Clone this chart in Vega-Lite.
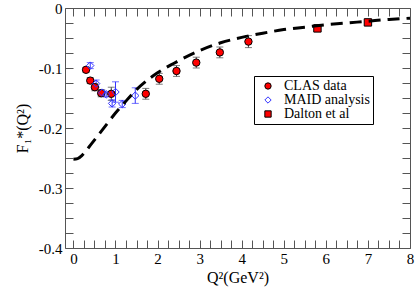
{
  "$schema": "https://vega.github.io/schema/vega-lite/v6.json",
  "width": 345,
  "height": 240,
  "autosize": "none",
  "padding": {"left": 65, "top": 8, "right": 5, "bottom": 46},
  "background": "white",
  "config": {
    "view": {"stroke": "#555", "strokeWidth": 1, "fill": null},
    "axis": {"domain": false, "grid": false, "ticks": true, "zindex": 1, "tickColor": "#555", "tickWidth": 1, "labelFont": "Times New Roman", "titleFont": "Times New Roman", "labelColor": "black", "titleColor": "black", "titleFontWeight": "normal", "labelFlush": false, "labelOverlap": false},
    "legend": {"labelFont": "Times New Roman"}
  },
  "datasets": {
    "curve": [
      {"q": 0.0, "f": -0.252}, {"q": 0.1, "f": -0.251}, {"q": 0.2, "f": -0.246}, {"q": 0.3, "f": -0.238},
      {"q": 0.4, "f": -0.229}, {"q": 0.6, "f": -0.211}, {"q": 0.8, "f": -0.193}, {"q": 1.0, "f": -0.175},
      {"q": 1.2, "f": -0.159}, {"q": 1.5, "f": -0.136}, {"q": 1.8, "f": -0.118}, {"q": 2.0, "f": -0.108},
      {"q": 2.5, "f": -0.088}, {"q": 3.0, "f": -0.071}, {"q": 3.5, "f": -0.058}, {"q": 4.0, "f": -0.049},
      {"q": 4.5, "f": -0.042}, {"q": 5.0, "f": -0.036}, {"q": 5.5, "f": -0.032}, {"q": 6.0, "f": -0.028},
      {"q": 6.5, "f": -0.025}, {"q": 7.0, "f": -0.022}, {"q": 7.5, "f": -0.019}, {"q": 8.0, "f": -0.017}
    ],
    "clas": [
      {"q": 0.30, "lo": -0.107, "hi": -0.099},
      {"q": 0.40, "lo": -0.126, "hi": -0.116},
      {"q": 0.51, "lo": -0.138, "hi": -0.126},
      {"q": 0.66, "lo": -0.148, "hi": -0.136},
      {"q": 0.90, "lo": -0.154, "hi": -0.132},
      {"q": 1.72, "lo": -0.152, "hi": -0.134},
      {"q": 2.04, "lo": -0.127, "hi": -0.109},
      {"q": 2.45, "lo": -0.114, "hi": -0.096},
      {"q": 2.92, "lo": -0.100, "hi": -0.082},
      {"q": 3.48, "lo": -0.083, "hi": -0.065},
      {"q": 4.16, "lo": -0.066, "hi": -0.046}
    ],
    "maid": [
      {"q": 0.40, "lo": -0.101, "hi": -0.091},
      {"q": 0.54, "lo": -0.132, "hi": -0.120},
      {"q": 0.68, "lo": -0.145, "hi": -0.137},
      {"q": 0.78, "lo": -0.148, "hi": -0.140},
      {"q": 0.92, "lo": -0.165, "hi": -0.153},
      {"q": 1.00, "lo": -0.157, "hi": -0.123},
      {"q": 1.16, "lo": -0.166, "hi": -0.154},
      {"q": 1.47, "lo": -0.159, "hi": -0.133}
    ],
    "points": [
      {"series": "CLAS data", "q": 0.30, "f": -0.103},
      {"series": "CLAS data", "q": 0.40, "f": -0.121},
      {"series": "CLAS data", "q": 0.51, "f": -0.132},
      {"series": "CLAS data", "q": 0.66, "f": -0.142},
      {"series": "CLAS data", "q": 0.90, "f": -0.143},
      {"series": "CLAS data", "q": 1.72, "f": -0.143},
      {"series": "CLAS data", "q": 2.04, "f": -0.118},
      {"series": "CLAS data", "q": 2.45, "f": -0.105},
      {"series": "CLAS data", "q": 2.92, "f": -0.091},
      {"series": "CLAS data", "q": 3.48, "f": -0.074},
      {"series": "CLAS data", "q": 4.16, "f": -0.056},
      {"series": "MAID analysis", "q": 0.40, "f": -0.096},
      {"series": "MAID analysis", "q": 0.54, "f": -0.126},
      {"series": "MAID analysis", "q": 0.68, "f": -0.141},
      {"series": "MAID analysis", "q": 0.78, "f": -0.144},
      {"series": "MAID analysis", "q": 0.92, "f": -0.159},
      {"series": "MAID analysis", "q": 1.00, "f": -0.140},
      {"series": "MAID analysis", "q": 1.16, "f": -0.160},
      {"series": "MAID analysis", "q": 1.47, "f": -0.146},
      {"series": "Dalton et al", "q": 5.80, "f": -0.034},
      {"series": "Dalton et al", "q": 7.00, "f": -0.024}
    ]
  },
  "resolve": {"axis": {"x": "independent", "y": "independent"}},
  "layer": [
    {
      "data": {"name": "curve"},
      "mark": {"type": "line", "opacity": 0},
      "encoding": {
        "x": {"field": "q", "type": "quantitative",
          "scale": {"domain": [-0.2, 8], "nice": false, "zero": false},
          "axis": {"orient": "bottom", "zindex": 1, "title": "Q²(GeV²)", "titleFontSize": 16, "titlePadding": 3,
            "values": [0,0.25,0.5,0.75,1,1.25,1.5,1.75,2,2.25,2.5,2.75,3,3.25,3.5,3.75,4,4.25,4.5,4.75,5,5.25,5.5,5.75,6,6.25,6.5,6.75,7,7.25,7.5,7.75,8],
            "labelExpr": "datum.value % 1 == 0 ? format(datum.value, 'd') : ''",
            "labelFontSize": 15, "labelPadding": 11, "tickSize": -8,
            "encode": {"ticks": {"update": {"y2": {"signal": "datum.value % 1 == 0 ? -8 : -4"}}}}}},
        "y": {"field": "f", "type": "quantitative",
          "scale": {"domain": [-0.4, 0], "nice": false, "zero": false},
          "axis": {"orient": "left", "zindex": 1, "title": "F₁*(Q²)", "titleFontSize": 16, "titlePadding": 8,
            "values": [0,-0.025,-0.05,-0.075,-0.1,-0.125,-0.15,-0.175,-0.2,-0.225,-0.25,-0.275,-0.3,-0.325,-0.35,-0.375,-0.4],
            "labelExpr": "abs(datum.value*10 - round(datum.value*10)) < 1e-6 ? (datum.value == 0 ? '0' : '-' + format(-datum.value, '.1f')) : ''",
            "labelFontSize": 15, "labelPadding": 11, "tickSize": -8,
            "encode": {"ticks": {"update": {"x2": {"signal": "abs(datum.value*10 - round(datum.value*10)) < 1e-6 ? 8 : 4"}}}}}}
      }
    },
    {
      "data": {"name": "curve"},
      "mark": {"type": "line", "opacity": 0},
      "encoding": {
        "x": {"field": "q", "type": "quantitative",
          "axis": {"orient": "top", "zindex": 1, "title": null, "labels": false, "tickSize": -8,
            "values": [0,0.25,0.5,0.75,1,1.25,1.5,1.75,2,2.25,2.5,2.75,3,3.25,3.5,3.75,4,4.25,4.5,4.75,5,5.25,5.5,5.75,6,6.25,6.5,6.75,7,7.25,7.5,7.75,8],
            "encode": {"ticks": {"update": {"y2": {"signal": "datum.value % 1 == 0 ? 8 : 4"}}}}}},
        "y": {"field": "f", "type": "quantitative",
          "axis": {"orient": "right", "zindex": 1, "title": null, "labels": false, "tickSize": -8,
            "values": [0,-0.025,-0.05,-0.075,-0.1,-0.125,-0.15,-0.175,-0.2,-0.225,-0.25,-0.275,-0.3,-0.325,-0.35,-0.375,-0.4],
            "encode": {"ticks": {"update": {"x2": {"signal": "abs(datum.value*10 - round(datum.value*10)) < 1e-6 ? -8 : -4"}}}}}}
      }
    },
    {
      "data": {"name": "clas"},
      "mark": {"type": "rule", "color": "#444", "strokeWidth": 1},
      "encoding": {
        "x": {"field": "q", "type": "quantitative", "axis": null},
        "y": {"field": "lo", "type": "quantitative", "axis": null},
        "y2": {"field": "hi"}
      }
    },
    {
      "data": {"name": "clas"},
      "mark": {"type": "tick", "orient": "horizontal", "color": "#444", "size": 7, "thickness": 1},
      "encoding": {
        "x": {"field": "q", "type": "quantitative", "axis": null},
        "y": {"field": "lo", "type": "quantitative", "axis": null}
      }
    },
    {
      "data": {"name": "clas"},
      "mark": {"type": "tick", "orient": "horizontal", "color": "#444", "size": 7, "thickness": 1},
      "encoding": {
        "x": {"field": "q", "type": "quantitative", "axis": null},
        "y": {"field": "hi", "type": "quantitative", "axis": null}
      }
    },
    {
      "data": {"name": "maid"},
      "mark": {"type": "rule", "color": "#3333ff", "strokeWidth": 1},
      "encoding": {
        "x": {"field": "q", "type": "quantitative", "axis": null},
        "y": {"field": "lo", "type": "quantitative", "axis": null},
        "y2": {"field": "hi"}
      }
    },
    {
      "data": {"name": "maid"},
      "mark": {"type": "tick", "orient": "horizontal", "color": "#3333ff", "size": 7, "thickness": 1},
      "encoding": {
        "x": {"field": "q", "type": "quantitative", "axis": null},
        "y": {"field": "lo", "type": "quantitative", "axis": null}
      }
    },
    {
      "data": {"name": "maid"},
      "mark": {"type": "tick", "orient": "horizontal", "color": "#3333ff", "size": 7, "thickness": 1},
      "encoding": {
        "x": {"field": "q", "type": "quantitative", "axis": null},
        "y": {"field": "hi", "type": "quantitative", "axis": null}
      }
    },
    {
      "data": {"name": "points"},
      "mark": {"type": "point", "filled": false, "strokeWidth": 1, "opacity": 1, "size": 55},
      "encoding": {
        "x": {"field": "q", "type": "quantitative", "axis": null},
        "y": {"field": "f", "type": "quantitative", "axis": null},
        "fill": {"field": "series", "type": "nominal",
          "scale": {"domain": ["CLAS data", "MAID analysis", "Dalton et al"], "range": ["#ff0000", "transparent", "#ff0000"]},
          "legend": {"title": null, "orient": "none", "legendX": 189, "legendY": 68, "strokeColor": "black", "padding": 3, "labelFont": "Times New Roman", "labelFontSize": 14, "symbolSize": 40, "rowPadding": 0, "labelOffset": 9, "symbolOffset": 4, "symbolStrokeWidth": 1}},
        "stroke": {"field": "series", "type": "nominal",
          "scale": {"domain": ["CLAS data", "MAID analysis", "Dalton et al"], "range": ["#000000", "#3333ff", "#000000"]}},
        "shape": {"field": "series", "type": "nominal",
          "scale": {"domain": ["CLAS data", "MAID analysis", "Dalton et al"], "range": ["circle", "diamond", "square"]}}
      }
    },
    {
      "data": {"name": "curve"},
      "mark": {"type": "line", "color": "black", "strokeWidth": 3, "strokeDash": [12, 7], "interpolate": "monotone"},
      "encoding": {
        "x": {"field": "q", "type": "quantitative", "axis": null},
        "y": {"field": "f", "type": "quantitative", "axis": null}
      }
    }
  ]
}
